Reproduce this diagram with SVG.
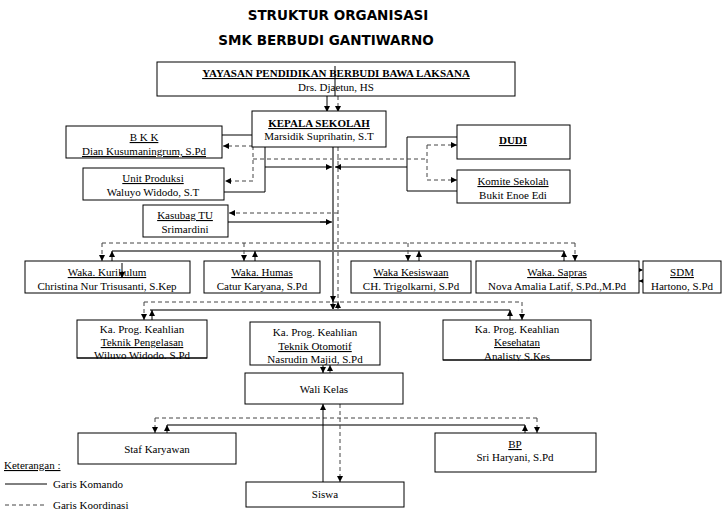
<svg xmlns="http://www.w3.org/2000/svg" width="728" height="522" viewBox="0 0 728 522">
<style>
.bx{fill:#fff;stroke:#000;stroke-width:1}
.t{font-family:"Liberation Serif","Times New Roman",serif;font-size:11px;fill:#000;text-anchor:middle}
.u{text-decoration:underline}
.b{font-weight:bold}
.h{font-family:"DejaVu Sans",Verdana,sans-serif;font-size:13.5px;font-weight:bold;text-anchor:middle;fill:#000}
.s{fill:none;stroke:#000;stroke-width:1}
.g{fill:none;stroke:#777;stroke-width:2}
.d{fill:none;stroke:#444;stroke-width:1;stroke-dasharray:4,3}
.l{font-family:"Liberation Serif","Times New Roman",serif;font-size:11px;fill:#000}
</style>
<defs>
<marker id="a" viewBox="0 0 6 6" refX="6" refY="3" markerWidth="6" markerHeight="6" markerUnits="userSpaceOnUse" orient="auto">
<path d="M0,0 L6,3 L0,6 z" fill="#000"/>
</marker>
<clipPath id="c1"><rect x="77" y="320" width="130" height="39"/></clipPath>
<clipPath id="c3"><rect x="443" y="320" width="148" height="41"/></clipPath>
</defs>

<text class="h" x="338" y="20">STRUKTUR ORGANISASI</text>
<text class="h" x="326" y="45">SMK BERBUDI GANTIWARNO</text>

<g id="connectors">
<path class="s" d="M327,72 V112" marker-end="url(#a)"/>
<path class="d" d="M338,96 V112" marker-end="url(#a)"/>
<path class="s" d="M222,135 H265 V192 H224"/>
<path class="s" d="M265,167 H332" marker-end="url(#a)"/>
<path class="s" d="M457,137 H407 V191 H457"/>
<path class="s" d="M407,167 H335" marker-end="url(#a)"/>
<path class="d" d="M253,159 H427"/>
<path class="d" d="M253,146 V181"/>
<path class="d" d="M253,146 H223" marker-end="url(#a)"/>
<path class="d" d="M253,181 H225" marker-end="url(#a)"/>
<path class="d" d="M427,145 V180"/>
<path class="d" d="M427,145 H457" marker-end="url(#a)"/>
<path class="d" d="M427,180 H457" marker-end="url(#a)"/>
<path class="d" d="M338,213 H229" marker-end="url(#a)"/>
<path class="g" d="M228,222 H326"/>
<path class="s" d="M320,222 H332" marker-end="url(#a)"/>
<path class="g" d="M333,147 V302"/>
<path class="s" d="M333,296 V302" marker-end="url(#a)"/>
<path class="s" d="M333,302 V310" marker-end="url(#a)"/>
<path class="d" d="M338,147 V302"/>
<path class="s" d="M338,309 V302" marker-end="url(#a)"/>
<path class="d" d="M102,243 H575"/>
<path class="g" d="M112,251 H564"/>
<path class="d" d="M102,243 V261" marker-end="url(#a)"/>
<path class="d" d="M244,243 V261" marker-end="url(#a)"/>
<path class="d" d="M408,243 V261" marker-end="url(#a)"/>
<path class="d" d="M575,243 V261" marker-end="url(#a)"/>
<path class="s" d="M112,261 V251" marker-end="url(#a)"/>
<path class="s" d="M255,261 V251" marker-end="url(#a)"/>
<path class="s" d="M419,261 V251" marker-end="url(#a)"/>
<path class="s" d="M564,261 V251" marker-end="url(#a)"/>
<path class="d" d="M631,270 H643" marker-end="url(#a)"/>
<path class="s" d="M643,281 H639" marker-end="url(#a)"/>
<path class="d" d="M144,302 H522"/>
<path class="g" d="M150,310 H510"/>
<path class="d" d="M144,302 V320" marker-end="url(#a)"/>
<path class="d" d="M522,302 V320" marker-end="url(#a)"/>
<path class="s" d="M152,320 V310" marker-end="url(#a)"/>
<path class="s" d="M510,320 V310" marker-end="url(#a)"/>
<path class="s" d="M323,365 V373" marker-end="url(#a)"/>
<path class="d" d="M330,373 V365" marker-end="url(#a)"/>
<path class="d" d="M155,418 H537"/>
<path class="g" d="M167,425 H525"/>
<path class="d" d="M155,418 V433" marker-end="url(#a)"/>
<path class="d" d="M537,418 V433" marker-end="url(#a)"/>
<path class="s" d="M167,433 V425" marker-end="url(#a)"/>
<path class="s" d="M525,433 V425" marker-end="url(#a)"/>
<path class="s" d="M323,482 V404" marker-end="url(#a)"/>
<path class="d" d="M340,404 V482" marker-end="url(#a)"/>
</g>

<g id="yayasan"><rect class="bx" x="157" y="62" width="358" height="34"/>
<text class="t b u" x="336" y="77">YAYASAN PENDIDIKAN BERBUDI BAWA LAKSANA</text>
<text class="t" x="336" y="91">Drs. Djaetun, HS</text></g>
<path class="s" d="M335,66 V96"/>

<g id="kepala"><rect class="bx" x="252" y="111" width="134" height="36"/>
<text class="t b u" x="319" y="127">KEPALA SEKOLAH</text>
<text class="t" x="319" y="140">Marsidik Suprihatin, S.T</text></g>

<g id="bkk"><rect class="bx" x="66" y="126" width="156" height="32"/>
<text class="t u" x="144" y="141">B K K</text>
<text class="t u" x="144" y="155">Dian Kusumaningrum, S.Pd</text></g>

<g id="unit"><rect class="bx" x="83" y="168" width="141" height="32"/>
<text class="t u" x="153" y="182">Unit Produksi</text>
<text class="t" x="153" y="196">Waluyo Widodo, S.T</text></g>

<g id="kasubag"><rect class="bx" x="143" y="205" width="85" height="32"/>
<text class="t u" x="185" y="219">Kasubag TU</text>
<text class="t" x="185" y="233">Srimardini</text></g>

<g id="dudi"><rect class="bx" x="457" y="125" width="113" height="34"/>
<text class="t b u" x="513" y="144">DUDI</text></g>

<g id="komite"><rect class="bx" x="457" y="170" width="113" height="33"/>
<text class="t u" x="513" y="185">Komite Sekolah</text>
<text class="t" x="513" y="199">Bukit Enoe Edi</text></g>

<g id="kurikulum"><rect class="bx" x="25" y="261" width="165" height="32"/>
<text class="t u" x="107" y="276">Waka. Kurikulum</text>
<text class="t" x="107" y="290">Christina Nur Trisusanti, S.Kep</text></g>
<path class="s" d="M122,263 V278" marker-end="url(#a)"/>

<g id="humas"><rect class="bx" x="204" y="261" width="116" height="32"/>
<text class="t u" x="262" y="276">Waka. Humas</text>
<text class="t" x="262" y="290">Catur Karyana, S.Pd</text></g>

<g id="kesiswaan"><rect class="bx" x="351" y="261" width="120" height="32"/>
<text class="t u" x="411" y="276">Waka Kesiswaan</text>
<text class="t" x="411" y="290">CH. Trigolkarni, S.Pd</text></g>

<g id="sapras"><rect class="bx" x="476" y="261" width="163" height="32"/>
<text class="t u" x="557" y="276">Waka. Sapras</text>
<text class="t" x="557" y="290">Nova Amalia Latif, S.Pd.,M.Pd</text></g>

<g id="sdm"><rect class="bx" x="643" y="261" width="78" height="32"/>
<text class="t u" x="682" y="276">SDM</text>
<text class="t" x="682" y="290">Hartono, S.Pd</text></g>

<g id="kp1"><rect class="bx" x="77" y="320" width="130" height="38"/>
<g clip-path="url(#c1)">
<text class="t" x="142" y="333">Ka. Prog. Keahlian</text>
<text class="t u" x="142" y="346">Teknik Pengelasan</text>
<text class="t" x="142" y="359">Wiluyo Widodo, S.Pd</text></g>
<path class="s" d="M77,358 H207"/></g>

<g id="kp2"><rect class="bx" x="250" y="322" width="130" height="43"/>
<text class="t" x="315" y="336">Ka. Prog. Keahlian</text>
<text class="t u" x="315" y="350">Teknik Otomotif</text>
<text class="t" x="315" y="363">Nasrudin Majid, S.Pd</text></g>

<g id="kp3"><rect class="bx" x="443" y="320" width="148" height="40"/>
<g clip-path="url(#c3)">
<text class="t" x="517" y="333">Ka. Prog. Keahlian</text>
<text class="t u" x="517" y="346">Kesehatan</text>
<text class="t" x="517" y="360">Analisty S.Kes</text></g>
<path class="s" d="M443,360 H591"/></g>

<g id="wali"><rect class="bx" x="245" y="373" width="158" height="31"/>
<text class="t" x="324" y="393">Wali Kelas</text></g>

<g id="staf"><rect class="bx" x="78" y="433" width="158" height="31"/>
<text class="t" x="157" y="453">Staf Karyawan</text></g>

<g id="bp"><rect class="bx" x="435" y="433" width="161" height="39"/>
<text class="t u" x="515" y="448">BP</text>
<text class="t" x="515" y="461">Sri Haryani, S.Pd</text></g>

<g id="siswa"><rect class="bx" x="246" y="482" width="158" height="25"/>
<text class="t" x="325" y="498">Siswa</text></g>

<g id="legend">
<text class="l u" x="4" y="469">Keterangan :</text>
<path class="s" d="M5,484 H47"/>
<text class="l" x="53" y="488">Garis Komando</text>
<path class="d" d="M5,505 H47"/>
<text class="l" x="53" y="509">Garis Koordinasi</text>
</g>
</svg>
